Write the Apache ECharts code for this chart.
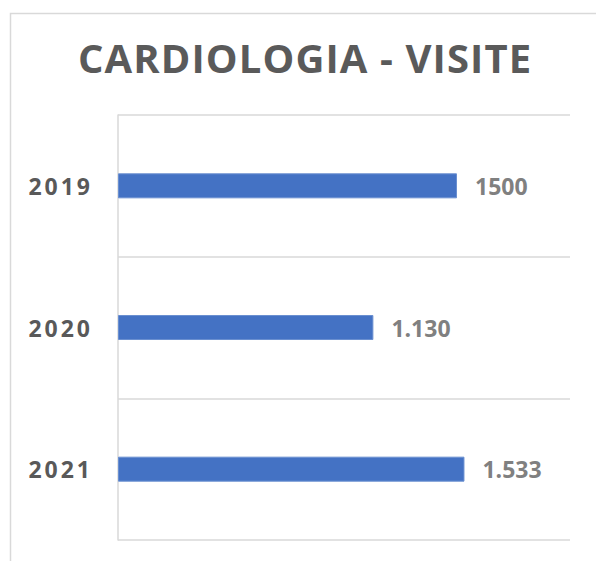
<!DOCTYPE html>
<html>
<head>
<meta charset="utf-8">
<script src="https://cdn.jsdelivr.net/npm/echarts@6/dist/echarts.min.js"></script>
<style>
  html, body { margin: 0; padding: 0; background: #fff; }
  #main { width: 596px; height: 561px; }
  /* spaziatura lettere come nell'originale */
  #main text[fill="#595959"] { letter-spacing: 3px; }
  #main text[fill="#5a5a5a"] { letter-spacing: 1.1px; }
</style>
</head>
<body>
<div id="main"></div>
<script>
// dati
const anni = ["2019", "2020", "2021"];
const visite = [1500, 1130, 1533];
const etichette = ["1500", "1.130", "1.533"];
const titolo = "CARDIOLOGIA - VISITE";

const myChart = echarts.init(document.getElementById("main"), null, { renderer: "svg" });

const option = {
  backgroundColor: "#fff",
  animation: false,
  title: {
    text: titolo,
    left: 73,
    top: 32,
    textStyle: {
      fontFamily: "'Open Sans'",
      fontWeight: "bold",
      fontSize: 40,
      color: "#5a5a5a"
    }
  },
  graphic: [
    {
      type: "rect",
      left: 8,
      top: 11,
      shape: { width: 620, height: 600 },
      style: { fill: "none", stroke: "#d9d9d9", lineWidth: 1.5 },
      silent: true
    }
  ],
  grid: { left: 118, right: 26, top: 115, bottom: 21 },
  xAxis: {
    type: "value",
    min: 0,
    max: 2000,
    show: false
  },
  yAxis: {
    type: "category",
    data: anni,
    inverse: true,
    axisLine: { show: true, lineStyle: { color: "#d9d9d9", width: 1.5 } },
    axisTick: { show: false },
    splitLine: { show: true, lineStyle: { color: "#d9d9d9", width: 1.5 } },
    axisLabel: {
      margin: 25,
      color: "#595959",
      fontFamily: "'Open Sans'",
      fontWeight: "bold",
      fontSize: 23
    }
  },
  series: [
    {
      type: "bar",
      data: visite,
      barWidth: 25,
      itemStyle: { color: "#4472c4", borderColor: "#6a8fd0", borderWidth: 1 },
      label: {
        show: true,
        position: "right",
        distance: 18,
        formatter: (p) => etichette[p.dataIndex],
        color: "#808080",
        fontFamily: "'Open Sans'",
        fontWeight: "bold",
        fontSize: 23
      }
    }
  ]
};

myChart.setOption(option);
</script>
</body>
</html>
